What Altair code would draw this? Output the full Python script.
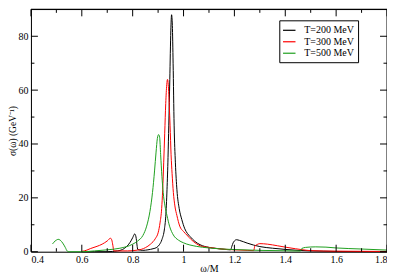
import altair as alt
import pandas as pd

# ---- data ----
w_200 = [0.60, 0.65, 0.70, 0.72, 0.74, 0.76, 0.775, 0.79, 0.80, 0.808, 0.813, 0.817, 0.82, 0.84, 0.86,
         0.88, 0.895, 0.905, 0.915, 0.925, 0.930, 0.935, 0.939, 0.942, 0.946, 0.950, 0.953, 0.956, 0.959,
         0.963, 0.968, 0.974, 0.983, 0.993, 1.005, 1.015, 1.026, 1.045, 1.065, 1.10, 1.13, 1.16, 1.185,
         1.19, 1.195, 1.20, 1.208, 1.22, 1.25, 1.30, 1.35, 1.40, 1.45, 1.50, 1.60, 1.70, 1.80]
v_200 = [0.0, 0.0, 0.0, 0.1, 0.3, 0.8, 1.8, 3.5, 5.2, 6.6, 5.5, 2.5, 0.8, 0.5, 0.7,
         1.1, 1.6, 2.6, 4.5, 8.5, 13.0, 23.0, 35.0, 47.0, 64.0, 82.0, 88.0, 84.0, 70.0,
         47.0, 33.0, 23.0, 16.0, 12.0, 8.5, 6.8, 5.6, 3.8, 2.6, 1.6, 1.2, 0.9, 0.7,
         2.0, 3.3, 4.0, 4.45, 4.2, 3.2, 1.9, 1.3, 0.85, 0.5, 0.3, 0.1, 0.05, 0.0]

w_300 = [0.60, 0.62, 0.635, 0.66, 0.68, 0.70, 0.713, 0.718, 0.722, 0.726, 0.74, 0.78, 0.82, 0.85, 0.87,
         0.89, 0.90, 0.908, 0.914, 0.918, 0.922, 0.926, 0.930, 0.934, 0.937, 0.940, 0.944, 0.947, 0.951,
         0.955, 0.960, 0.966, 0.974, 0.985, 1.00, 1.013, 1.03, 1.05, 1.065, 1.10, 1.15, 1.20, 1.25, 1.276,
         1.28, 1.29, 1.30, 1.33, 1.37, 1.40, 1.44, 1.47, 1.50, 1.60, 1.80]
v_300 = [0.1, 0.6, 1.2, 2.0, 2.8, 4.0, 5.0, 4.3, 2.4, 0.3, 0.3, 0.3, 0.6, 1.5, 2.8,
         5.0, 7.0, 11.0, 16.0, 23.0, 33.0, 44.0, 55.0, 62.0, 64.0, 62.0, 54.0, 47.0, 36.0,
         29.0, 22.0, 17.0, 13.4, 9.5, 7.5, 6.2, 4.5, 3.0, 2.2, 1.6, 1.0, 0.7, 0.5, 0.4,
         2.0, 2.7, 3.0, 2.8, 2.2, 1.7, 1.1, 0.7, 0.4, 0.2, 0.1]

w_500 = [0.485, 0.49, 0.50, 0.507, 0.515, 0.525, 0.535, 0.543, 0.55, 0.60, 0.65, 0.70, 0.75, 0.80, 0.82,
         0.84, 0.855, 0.868, 0.878, 0.886, 0.892, 0.897, 0.902, 0.906, 0.910, 0.915, 0.92, 0.927, 0.935,
         0.945, 0.96, 0.98, 1.00, 1.05, 1.10, 1.15, 1.20, 1.30, 1.40, 1.46, 1.465, 1.48, 1.52, 1.56, 1.60,
         1.70, 1.80]
v_500 = [2.9, 3.5, 4.3, 4.6, 4.3, 3.2, 1.6, 0.2, 0.0, 0.0, 0.3, 0.7, 1.3, 2.8, 4.0,
         6.0, 9.5, 15.0, 22.0, 30.0, 37.0, 42.0, 43.5, 42.5, 36.0, 28.0, 22.0, 17.0, 13.4,
         9.5, 6.2, 4.3, 3.3, 2.0, 1.4, 1.0, 0.8, 0.5, 0.35, 0.25, 1.2, 1.6, 1.8, 1.7, 1.4,
         1.0, 0.6]

series_names = ["T=200 MeV", "T=300 MeV", "T=500 MeV"]
series_colors = ["#000000", "#ff0000", "#1fa01f"]

x_major = [0.4, 0.6, 0.8, 1.0, 1.2, 1.4, 1.6, 1.8]
x_minor = [0.5, 0.7, 0.9, 1.1, 1.3, 1.5, 1.7]
y_major = [0, 20, 40, 60, 80]
y_minor = [10, 30, 50, 70]
x_range = [0.4, 1.8]
y_range = [0, 90]

# ---- build tables ----
rows = []
for name, ws, vs in zip(series_names, [w_200, w_300, w_500], [v_200, v_300, v_500]):
    for i, (a, b) in enumerate(zip(ws, vs)):
        rows.append({"w": a, "s": b, "T": name, "i": i})
df = pd.DataFrame(rows)

W, H = 357, 243
FONT = "Liberation Serif"
xs = alt.Scale(domain=x_range, nice=False, zero=False)
ys = alt.Scale(domain=y_range, nice=False)

x_axis = alt.Axis(values=x_major, format="~g", title="ω/M", ticks=False, domain=True,
                  domainColor="black", domainWidth=1,
                  grid=False, labelPadding=3, labelFont=FONT, labelFontSize=10,
                  labelColor="black", titleFont=FONT, titleFontSize=10,
                  titleFontWeight="normal", titleColor="black", titleY=20,
                  titleBaseline="alphabetic")
y_axis = alt.Axis(values=y_major, title="σ(ω) (GeV⁻¹)", ticks=False, domain=True,
                  domainColor="black", domainWidth=1,
                  grid=False, labelPadding=3, labelFont=FONT, labelFontSize=10,
                  labelColor="black", titleFont=FONT, titleFontSize=9.5,
                  titleFontWeight="normal", titleColor="black", titleX=-13)

lines = alt.Chart(df).mark_line(strokeWidth=1, interpolate="monotone").encode(
    x=alt.X("w:Q", scale=xs, axis=x_axis, title="ω/M"),
    y=alt.Y("s:Q", scale=ys, axis=y_axis, title="σ(ω) (GeV⁻¹)"),
    color=alt.Color("T:N", scale=alt.Scale(domain=series_names, range=series_colors),
                    legend=alt.Legend(title=None, orient="none", legendX=249, legendY=11,
                                      symbolType="M-1.25,0H1.25", symbolSize=100,
                                      symbolStrokeWidth=1.2, labelOffset=9,
                                      labelFont=FONT, labelFontSize=10, labelColor="black",
                                      rowPadding=0.5, padding=4, strokeColor="black",
                                      fillColor="white")),
    order="i:Q",
)

xmaj = pd.DataFrame({"v": x_major})
xmin = pd.DataFrame({"v": x_minor})
ymaj = pd.DataFrame({"v": y_major})
ymin = pd.DataFrame({"v": y_minor})
xfr = pd.DataFrame({"v": x_range[1:]})
yfr = pd.DataFrame({"v": y_range[1:]})

def xt(d, y0, y1, sw=1):
    return alt.Chart(d).mark_rule(color="black", strokeWidth=sw).encode(
        x=alt.X("v:Q", scale=xs, axis=x_axis, title="ω/M"), y=alt.value(y0), y2=alt.value(y1))

def yt(d, x0, x1, sw=1):
    return alt.Chart(d).mark_rule(color="black", strokeWidth=sw).encode(
        y=alt.Y("v:Q", scale=ys, axis=y_axis, title="σ(ω) (GeV⁻¹)"), x=alt.value(x0), x2=alt.value(x1))

layers = [
    xt(xfr, 0, H), yt(yfr, 0, W, 1.3),
    xt(xmaj, H, H - 7), xt(xmin, H, H - 3.5), xt(xmaj, 0, 7), xt(xmin, 0, 3.5),
    yt(ymaj, 0, 7), yt(ymin, 0, 3.5), yt(ymaj, W, W - 7), yt(ymin, W, W - 3.5),
]

chart = alt.layer(lines, *layers).properties(
    width=W, height=H,
    autosize=alt.AutoSizeParams(type="none"),
    padding={"left": 23, "top": 1, "right": 0, "bottom": 23},
).configure_view(stroke=None).configure(background="white")

chart.save("out.html", embed_options={"renderer": "svg", "actions": False})
